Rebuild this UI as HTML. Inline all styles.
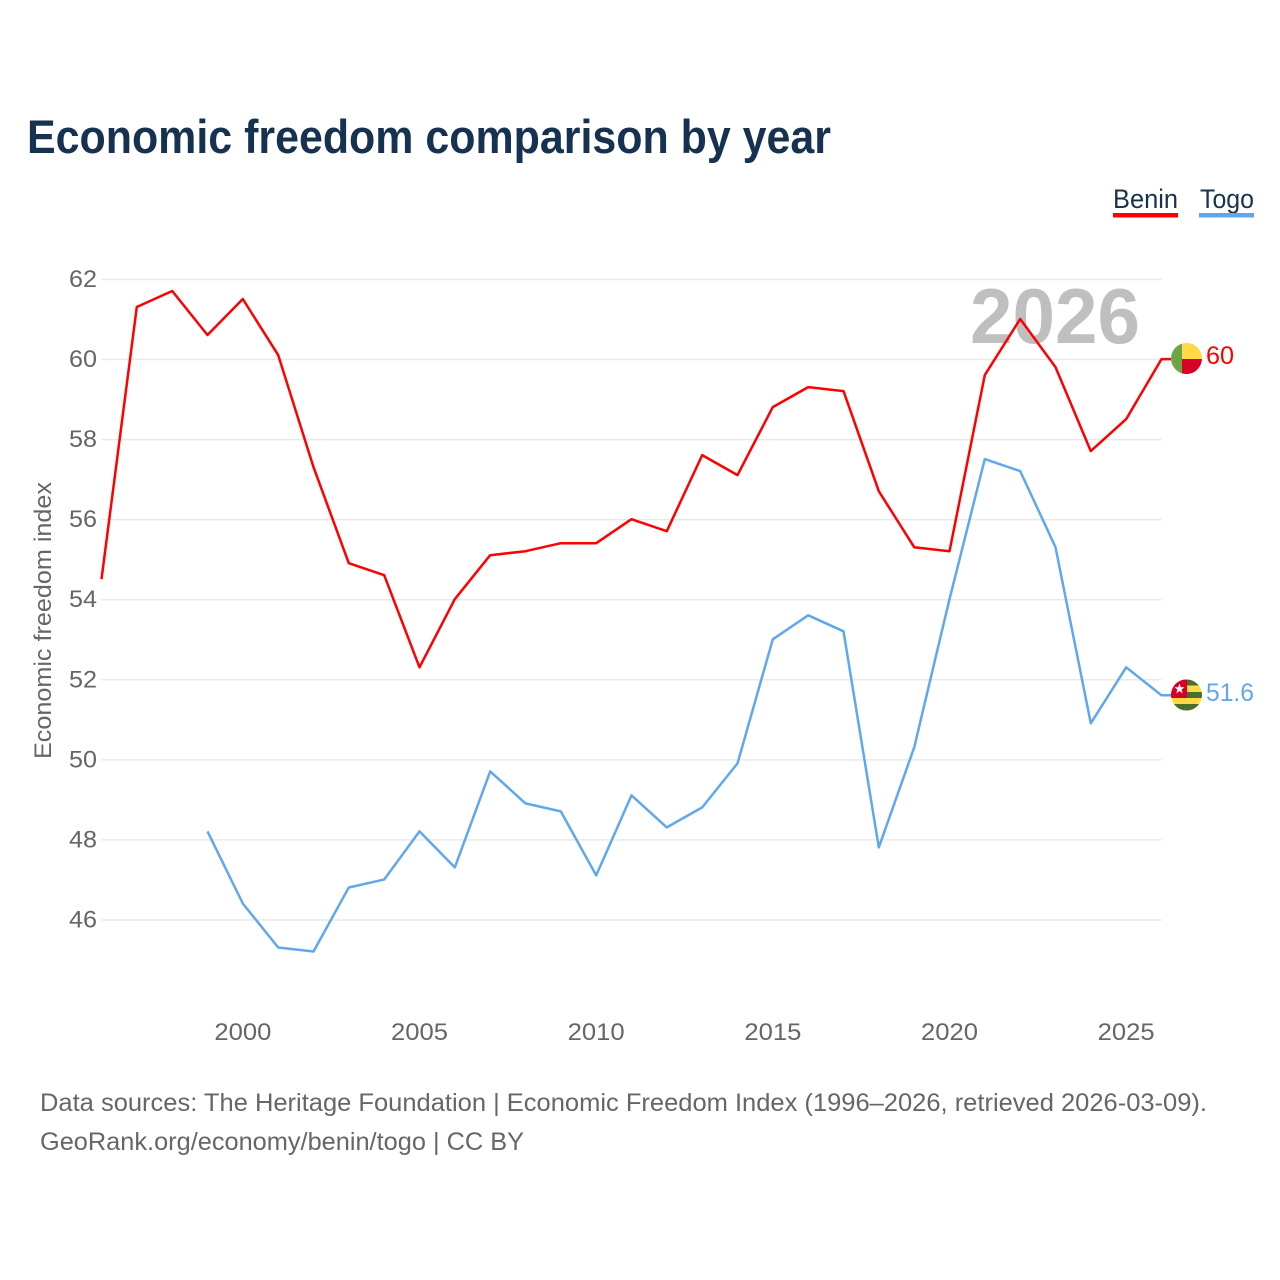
<!DOCTYPE html>
<html lang="en">
<head>
<meta charset="utf-8">
<title>Economic freedom comparison by year</title>
<style>
html,body{margin:0;padding:0;background:#fff;}
svg{display:block;font-family:"Liberation Sans",sans-serif;}
</style>
</head>
<body>
<svg id="chart" xmlns="http://www.w3.org/2000/svg" width="1280" height="1280" viewBox="0 0 1280 1280">
  <defs>
    <clipPath id="flag-clip-benin"><circle cx="1186.5" cy="358.500" r="15.500"/></clipPath>
    <clipPath id="flag-clip-togo"><circle cx="1186.5" cy="695" r="15.500"/></clipPath>
  </defs>
  <rect width="1280" height="1280" fill="#ffffff"/>
  <text x="27" y="153" font-size="47" font-weight="700" fill="#173151" textLength="804" lengthAdjust="spacingAndGlyphs">Economic freedom comparison by year</text>

  <g>
    <g>
      <text x="1113" y="208" font-size="27" fill="#173151" textLength="65" lengthAdjust="spacingAndGlyphs">Benin</text>
      <rect x="1113" y="213" width="65" height="4.500" fill="#ff0000"/>
    </g>
    <g>
      <text x="1200" y="208" font-size="27" fill="#173151" textLength="54" lengthAdjust="spacingAndGlyphs">Togo</text>
      <rect x="1199" y="213" width="55" height="4.500" fill="#5fa8ee"/>
    </g>
  </g>

  <g id="grid"></g>
  <text x="970" y="343" font-size="78" font-weight="700" fill="#bfbfbf" textLength="170" lengthAdjust="spacingAndGlyphs">2026</text>
  <g id="y-axis"></g>
  <g id="x-axis"></g>
  <text transform="translate(51,759) rotate(-90)" x="0" y="0" font-size="24" fill="#666666" textLength="277" lengthAdjust="spacingAndGlyphs">Economic freedom index</text>
  <g id="series"></g>

  <g>
    <g clip-path="url(#flag-clip-benin)">
      <rect x="1171" y="343" width="11" height="31" fill="#6da544"/>
      <rect x="1182" y="343" width="20" height="16" fill="#ffda44"/>
      <rect x="1182" y="359" width="20" height="16" fill="#d80027"/>
    </g>
  </g>
  <g>
    <g clip-path="url(#flag-clip-togo)">
      <rect x="1171" y="679" width="31" height="32" fill="#ffda44"/>
      <rect x="1171" y="679" width="31" height="6.500" fill="#496e2d"/>
      <rect x="1171" y="692" width="31" height="6" fill="#496e2d"/>
      <rect x="1171" y="704" width="31" height="7" fill="#496e2d"/>
      <rect x="1171" y="679" width="16" height="19" fill="#d80027"/>
      <polygon points="1179.500,683.500 1180.800,687.200 1184.600,687.200 1181.600,689.500 1182.700,693.200 1179.500,691 1176.300,693.200 1177.400,689.500 1174.400,687.200 1178.200,687.200" fill="#ffffff"/>
    </g>
  </g>
  <text x="1206" y="364" font-size="25" fill="#ff0000" textLength="28" lengthAdjust="spacingAndGlyphs">60</text>
  <text x="1206" y="701" font-size="25" fill="#5fa8ee" textLength="48" lengthAdjust="spacingAndGlyphs">51.6</text>

  <text x="40" y="1111" font-size="25" fill="#666666" textLength="1167" lengthAdjust="spacingAndGlyphs">Data sources: The Heritage Foundation | Economic Freedom Index (1996–2026, retrieved 2026-03-09).</text>
  <text x="40" y="1150" font-size="25" fill="#666666" textLength="484" lengthAdjust="spacingAndGlyphs">GeoRank.org/economy/benin/togo | CC BY</text>
</svg>
<script>
const years = [1996,1997,1998,1999,2000,2001,2002,2003,2004,2005,2006,2007,2008,2009,2010,2011,2012,2013,2014,2015,2016,2017,2018,2019,2020,2021,2022,2023,2024,2025,2026];
const beninValues = [54.5,61.3,61.7,60.6,61.5,60.1,57.3,54.9,54.6,52.3,54.0,55.1,55.2,55.4,55.4,56.0,55.7,57.6,57.1,58.8,59.3,59.2,56.7,55.3,55.2,59.6,61.0,59.8,57.7,58.5,60.0];
const togoValues = [null,null,null,48.2,46.4,45.3,45.2,46.8,47.0,48.2,47.3,49.7,48.9,48.7,47.1,49.1,48.3,48.8,49.9,53.0,53.6,53.2,47.8,50.3,54.0,57.5,57.2,55.3,50.9,52.3,51.6];
const yTicks = [46,48,50,52,54,56,58,60,62];
const xTicks = [2000,2005,2010,2015,2020,2025];

const NS = 'http://www.w3.org/2000/svg';
const xScale = function (year) { return 101.5 + (year - 1996) * (1161.5 - 101.5) / 30; };
const yScale = function (value) { return 279 + (62 - value) * 40.03; };
const make = function (tag, parent) {
  const el = document.createElementNS(NS, tag);
  parent.appendChild(el);
  return el;
};

const gridGroup = document.getElementById('grid');
const yGroup = document.getElementById('y-axis');
const xGroup = document.getElementById('x-axis');
const seriesGroup = document.getElementById('series');

yTicks.forEach(function (tick) {
  const line = make('line', gridGroup);
  
  
  line.setAttribute('x1', xScale(1996));
  line.setAttribute('x2', xScale(2026));
  line.setAttribute('y1', yScale(tick) + 0.5);
  line.setAttribute('y2', yScale(tick) + 0.5);
  line.setAttribute('stroke', '#e9e9e9');
  line.setAttribute('stroke-width', '1.500');

  const label = make('text', yGroup);
  
  
  label.setAttribute('x', 97);
  label.setAttribute('y', yScale(tick) + 8);
  label.setAttribute('text-anchor', 'end');
  label.setAttribute('font-size', '24');
  label.setAttribute('fill', '#666666');
  label.setAttribute('textLength', '28');
  label.setAttribute('lengthAdjust', 'spacingAndGlyphs');
  label.textContent = tick;
});

xTicks.forEach(function (tick) {
  const label = make('text', xGroup);
  
  
  label.setAttribute('x', xScale(tick));
  label.setAttribute('y', 1040);
  label.setAttribute('text-anchor', 'middle');
  label.setAttribute('font-size', '24');
  label.setAttribute('fill', '#666666');
  label.setAttribute('textLength', '57');
  label.setAttribute('lengthAdjust', 'spacingAndGlyphs');
  label.textContent = tick;
});

const drawSeries = function (name, values, colour) {
  const points = [];
  values.forEach(function (value, i) {
    if (value !== null) {
      points.push(xScale(years[i]).toFixed(1) + ',' + yScale(value).toFixed(1));
    }
  });
  const lastValue = values[values.length - 1];
  points.push('1171,' + yScale(lastValue).toFixed(1));
  const line = make('polyline', seriesGroup);
  
  
  line.setAttribute('points', points.join(' '));
  line.setAttribute('fill', 'none');
  line.setAttribute('stroke', colour);
  line.setAttribute('stroke-width', '2.500');
  line.setAttribute('stroke-linejoin', 'round');
};

drawSeries('benin', beninValues, '#ff0000');
drawSeries('togo', togoValues, '#5fa8ee');
</script>
</body>
</html>
